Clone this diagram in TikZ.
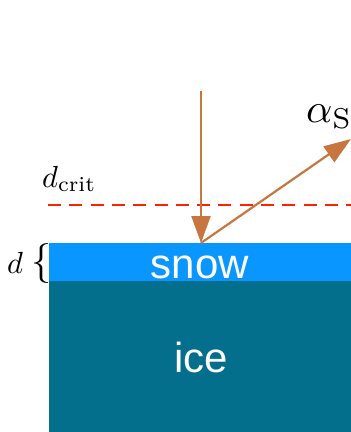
\documentclass[tikz,border=0pt]{standalone}
\usepackage{fontspec}
\newfontfamily\sansf{Liberation Sans}
\usetikzlibrary{arrows.meta}
\definecolor{snowc}{RGB}{10,150,255}
\definecolor{icec}{RGB}{4,110,141}
\definecolor{arrc}{RGB}{200,118,64}
\definecolor{critc}{RGB}{255,34,0}
\begin{document}
\begin{tikzpicture}[x=1pt,y=-1pt,
  ray/.style={draw=arrc,line width=2.2pt,-{Triangle[length=27pt,width=19pt]}},
  lbl/.style={text=white,font=\sansf\fontsize{42}{42}\selectfont,inner sep=0pt,anchor=base},
  mlbl/.style={inner sep=0pt,anchor=base west}]
\useasboundingbox (0,0) rectangle (351,432);
\fill[icec] (49,281) rectangle (351,432);
\fill[snowc] (49,243) rectangle (351,281);
\draw[critc,line width=2.8pt,dash pattern=on 13pt off 8.3pt] (48,205) -- (351,205);
\coordinate (src) at (201,91);
\coordinate (hit) at (201,243);
\coordinate (out) at (351,139);
\draw[ray] (src) -- (hit);
\draw[ray] (hit) -- (out);
\node[lbl] (snow) at (200,278) {snow};
\node[lbl] (ice) at (201,372) {ice};
\node[mlbl] (alpha) at (306,122) {\scalebox{4.1}{$\alpha_{\mathrm{S}}$}};
\node[mlbl] (dcrit) at (42,187) {\scalebox{3.05}{$d_{\mathrm{crit}}$}};
\node[mlbl] (d) at (7,273) {\scalebox{3.05}{$d$}};
\node[inner sep=0pt] (br) at (41,263) {\scalebox{4}{$\{$}};
\end{tikzpicture}
\end{document}
